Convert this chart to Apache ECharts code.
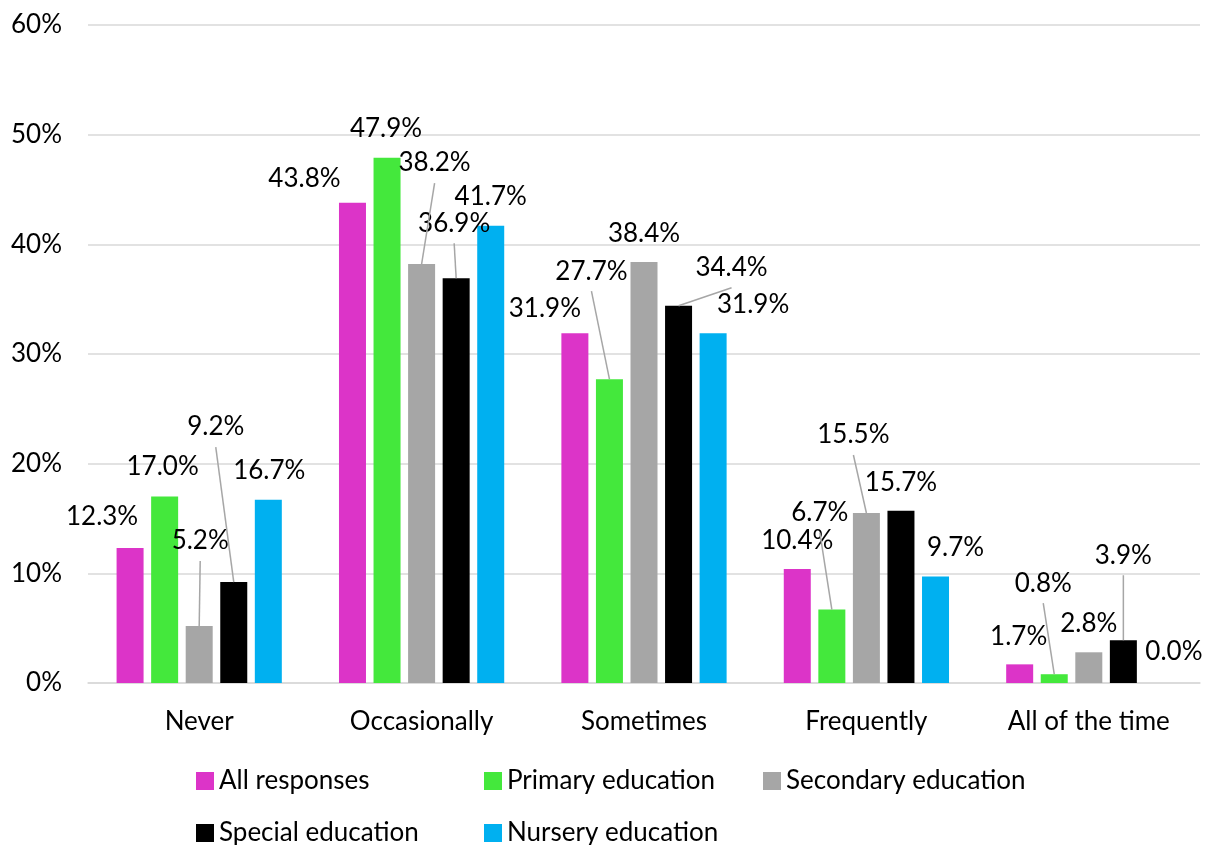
<!DOCTYPE html>
<html>
<head>
<meta charset="utf-8">
<script src="https://cdn.jsdelivr.net/npm/echarts@6/dist/echarts.min.js"></script>
<style>
  html, body { margin: 0; padding: 0; background: #ffffff; }
  #chart { width: 1212px; height: 845px; }
</style>
</head>
<body>
<div id="chart"></div>
<script>
// Frequency categories on the x axis
const categories = ['Never', 'Occasionally', 'Sometimes', 'Frequently', 'All of the time'];

// Share of respondents (%) per group
const allResponses       = [12.3, 43.8, 31.9, 10.4, 1.7];
const primaryEducation   = [17.0, 47.9, 27.7, 6.7, 0.8];
const secondaryEducation = [5.2, 38.2, 38.4, 15.5, 2.8];
const specialEducation   = [9.2, 36.9, 34.4, 15.7, 3.9];
const nurseryEducation   = [16.7, 41.7, 31.9, 9.7, 0.0];

// Y axis ticks (%)
const yTicks = [0, 10, 20, 30, 40, 50, 60];

// Label placement: offset of each label centre from the top-centre of its bar,
// plus which labels get a leader line back to the bar
const labelOffsets = [
  [[-28, -32], [-48, -24], [-30, -25], [0, -28], [-1, -28]],
  [[-2, -30], [-1, -29], [-18, -108], [-12, -97], [-11, -91]],
  [[1, -85], [13, -101], [0, -28], [-13, -78], [0, -29]],
  [[-18, -155], [-2, -55], [53, -38], [0, -28], [0, -85]],
  [[1, -29], [0, -29], [40, -29], [20, -29], [16, -31]]
];
const leaderLines = [[], [2, 3, 4], [0, 1, 3], [0, 1, 2, 4], []];

const groups = [
  { name: 'All responses',       values: allResponses,       color: '#dc34c8' },
  { name: 'Primary education',   values: primaryEducation,   color: '#44e83c' },
  { name: 'Secondary education', values: secondaryEducation, color: '#a6a6a6' },
  { name: 'Special education',   values: specialEducation,   color: '#000000' },
  { name: 'Nursery education',   values: nurseryEducation,   color: '#00b0f0' }
];

const FONT = 'Lato, "Open Sans", sans-serif';
const FS = 26;
const gridColor = '#d9d9d9';
const BAR_W = 27;
const BAR_GAP = 0.28;
const BAR_STEP = BAR_W * (1 + BAR_GAP);
const LEADER_START = 20; // distance from label centre down to where its leader begins

const barSeries = groups.map((g, si) => ({
  name: g.name,
  type: 'bar',
  barWidth: BAR_W,
  barGap: (BAR_GAP * 100) + '%',
  itemStyle: { color: g.color },
  data: g.values,
  label: {
    show: true,
    position: 'top',
    formatter: p => p.value.toFixed(1) + '%',
    fontFamily: FONT,
    fontSize: FS,
    color: '#000000'
  },
  labelLayout: params => {
    const off = labelOffsets[params.seriesIndex][params.dataIndex];
    const r = params.rect;
    return {
      x: r.x + r.width / 2 + off[0],
      y: r.y + off[1],
      align: 'center',
      verticalAlign: 'middle'
    };
  }
}));

// Leader lines: [category index, value, group index]
const leaderData = [];
groups.forEach((g, si) => {
  leaderLines[si].forEach(i => leaderData.push([i, g.values[i], si]));
});

const leaderSeries = {
  type: 'custom',
  silent: true,
  z: 3,
  data: leaderData,
  encode: { x: 0, y: 1 },
  renderItem: (params, api) => {
    const ci = api.value(0);
    const si = api.value(2);
    const top = api.coord([ci, api.value(1)]);
    const barX = top[0] + (si - (groups.length - 1) / 2) * BAR_STEP;
    const off = labelOffsets[si][ci];
    return {
      type: 'line',
      shape: {
        x1: barX + off[0], y1: top[1] + off[1] + LEADER_START,
        x2: barX, y2: top[1]
      },
      style: { stroke: '#a6a6a6', lineWidth: 1.5 }
    };
  }
};

// Legend laid out as a grid of columns
const legendSlots = [[196, 766], [484, 766], [763, 766], [196, 818], [484, 818]];
const legends = groups.map((g, i) => ({
  left: legendSlots[i][0],
  top: legendSlots[i][1],
  padding: 0,
  itemWidth: 18,
  itemHeight: 18,
  icon: 'rect',
  data: [g.name],
  textStyle: { fontFamily: FONT, fontSize: FS, color: '#000000', lineHeight: 30 }
}));

const option = {
  animation: false,
  backgroundColor: '#ffffff',
  grid: { left: 88, right: 12, top: 25, bottom: 162, containLabel: false },
  xAxis: {
    type: 'category',
    data: categories,
    axisTick: { show: false },
    axisLine: { lineStyle: { color: gridColor, width: 1.5 } },
    axisLabel: { fontFamily: FONT, fontSize: FS, color: '#000000', margin: 26 }
  },
  yAxis: {
    type: 'value',
    min: yTicks[0],
    max: yTicks[yTicks.length - 1],
    interval: yTicks[1] - yTicks[0],
    axisLine: { show: false },
    axisTick: { show: false },
    axisLabel: { formatter: '{value}%', fontFamily: FONT, fontSize: FS, color: '#000000', margin: 26 },
    splitLine: { lineStyle: { color: gridColor, width: 1.5 } }
  },
  legend: legends,
  series: barSeries.concat([leaderSeries])
};

const chart = echarts.init(document.getElementById('chart'), null, { renderer: 'canvas' });
chart.setOption(option);
</script>
</body>
</html>
